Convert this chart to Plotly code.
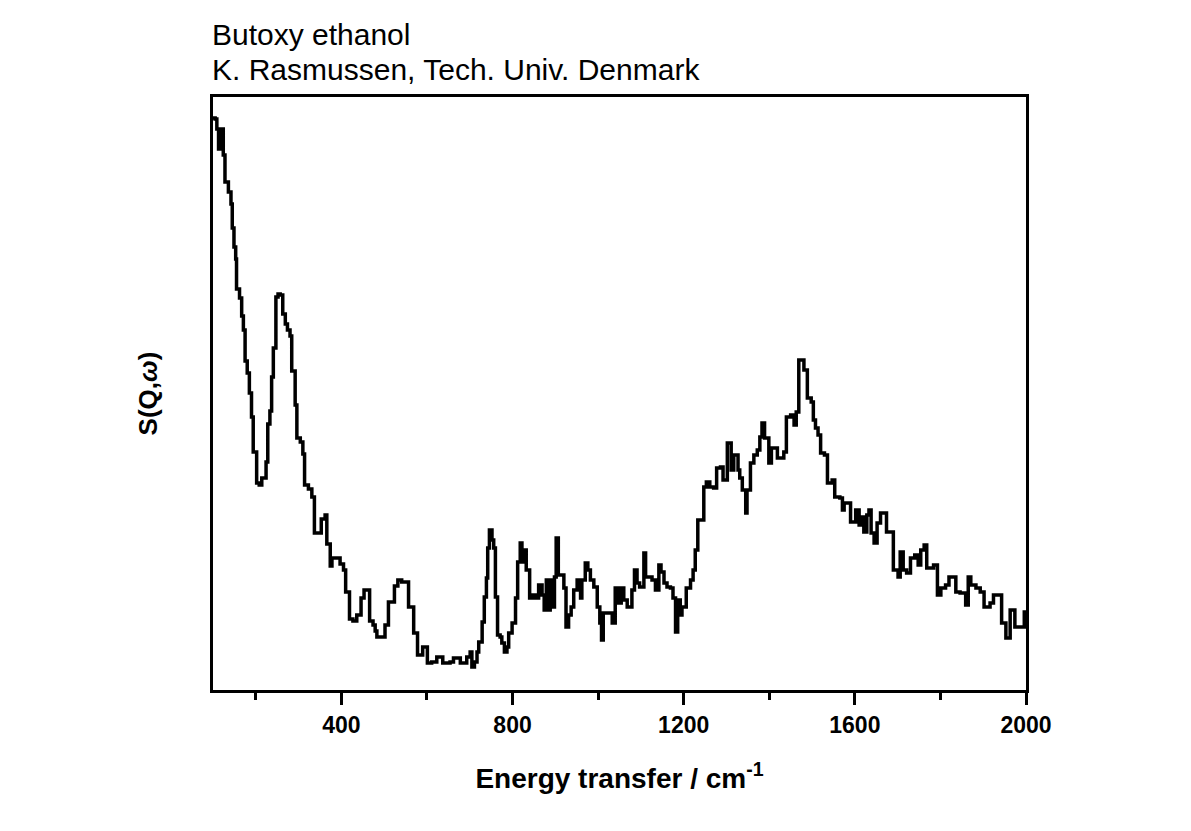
import plotly.graph_objects as go

# Energy transfer (cm^-1), step edges
energy = [100, 105, 109, 113, 117, 120, 124, 128, 136, 142, 145, 149, 153, 155, 162, 167, 171, 175, 180, 185,
          190, 194, 202, 208, 214, 224, 228, 233, 237, 241, 247, 252, 257, 263, 269, 274, 280, 284, 292, 296,
          304, 310, 314, 323, 331, 337, 349, 353, 362, 366, 374, 378, 389, 397, 405, 410, 419, 427, 436, 446,
          453, 462, 466, 474, 479, 483, 495, 502, 510, 520, 524, 532, 541, 552, 557, 569, 578, 590, 601, 611,
          623, 637, 654, 662, 678, 693, 701, 705, 711, 717, 721, 729, 734, 739, 742, 746, 752, 756, 760, 765,
          771, 775, 781, 787, 791, 799, 807, 812, 818, 822, 828, 832, 840, 846, 853, 861, 869, 874, 879, 885,
          888, 895, 898, 902, 907, 913, 920, 925, 931, 937, 943, 951, 959, 962, 970, 976, 982, 990, 998, 1004,
          1008, 1012, 1021, 1033, 1040, 1048, 1054, 1060, 1068, 1079, 1085, 1091, 1097, 1107, 1111, 1118, 1126, 1134, 1142, 1147,
          1154, 1161, 1169, 1175, 1181, 1186, 1192, 1196, 1206, 1216, 1222, 1227, 1233, 1243, 1247, 1253, 1261, 1270, 1277, 1286,
          1292, 1302, 1311, 1317, 1327, 1331, 1337, 1345, 1348, 1356, 1364, 1372, 1378, 1383, 1389, 1399, 1405, 1419, 1434, 1440,
          1450, 1458, 1463, 1469, 1481, 1489, 1498, 1503, 1508, 1514, 1520, 1529, 1536, 1547, 1553, 1565, 1571, 1575, 1582, 1590,
          1598, 1602, 1610, 1615, 1621, 1628, 1633, 1638, 1645, 1652, 1660, 1674, 1690, 1701, 1706, 1713, 1721, 1730, 1740, 1748,
          1754, 1762, 1768, 1784, 1793, 1801, 1812, 1820, 1836, 1846, 1859, 1865, 1871, 1883, 1893, 1902, 1916, 1924, 1943, 1953,
          1963, 1974, 1996, 2000]

# S(Q,w), arbitrary units
intensity = [572, 571, 561, 541, 556, 561, 535, 508, 498, 486, 462, 443, 431, 401, 392, 374, 360, 329, 317, 297,
             273, 238, 207, 205, 212, 228, 266, 279, 313, 342, 393, 396, 395, 376, 366, 360, 354, 319, 285, 252,
             248, 236, 205, 201, 193, 157, 157, 171, 175, 146, 124, 132, 132, 126, 120, 98, 71, 69, 75, 92,
             100, 100, 69, 65, 59, 53, 53, 65, 88, 88, 104, 110, 108, 108, 83, 57, 35, 43, 27, 28,
             33, 27, 28, 32, 27, 33, 38, 23, 28, 38, 48, 68, 93, 112, 142, 160, 150, 142, 93, 55,
             53, 47, 38, 43, 57, 67, 92, 128, 147, 128, 140, 120, 92, 95, 92, 105, 95, 80, 110, 80,
             110, 83, 113, 152, 115, 115, 102, 63, 75, 83, 100, 110, 92, 110, 127, 120, 110, 103, 83, 67,
             50, 77, 77, 67, 102, 87, 102, 90, 83, 100, 120, 107, 103, 137, 113, 113, 110, 100, 125, 118,
             107, 103, 102, 92, 58, 90, 75, 83, 102, 110, 120, 140, 170, 170, 203, 208, 203, 202, 222, 223,
             210, 247, 220, 235, 220, 212, 200, 177, 200, 227, 235, 240, 253, 267, 252, 227, 242, 232, 238, 273,
             275, 265, 278, 330, 320, 292, 288, 270, 262, 255, 237, 235, 207, 210, 193, 192, 180, 187, 187, 168,
             168, 180, 165, 173, 158, 175, 180, 157, 147, 167, 177, 158, 120, 113, 138, 120, 117, 132, 135, 125,
             140, 145, 122, 125, 95, 102, 105, 113, 98, 97, 85, 113, 105, 102, 98, 83, 87, 95, 67, 52,
             80, 63, 78, 78]

title_lines = ["Butoxy ethanol", "K. Rasmussen, Tech. Univ. Denmark"]
x_title = "Energy transfer / cm<sup>-1</sup>"
y_title = "<b>S(Q,<i>\u03c9</i>)</b>"

FONT = "Liberation Sans, Arial, sans-serif"

fig = go.Figure()
fig.add_trace(go.Scatter(
    x=energy, y=intensity, mode="lines", line_shape="hv",
    line=dict(color="black", width=3.5), showlegend=False, hoverinfo="skip"))

title_y = [1.1062, 1.0472]
fig.update_layout(
    width=1183, height=823,
    margin=dict(l=205, r=165, t=89, b=141),
    paper_bgcolor="white", plot_bgcolor="white",
    font=dict(family=FONT, color="black"),
    annotations=[dict(
        text=t, xref="paper", yref="paper",
        x=0, y=yy, xanchor="left", yanchor="middle", align="left",
        showarrow=False, xshift=-3,
        font=dict(family=FONT, size=30, color="black"))
        for t, yy in zip(title_lines, title_y)],
)

fig.update_xaxes(
    range=[100, 2000], showgrid=False, zeroline=False,
    showline=True, linecolor="black", linewidth=3, mirror=True,
    tickmode="linear", tick0=0, dtick=400,
    ticks="outside", ticklen=12, tickwidth=3, tickcolor="black",
    tickfont=dict(family=FONT, size=23, color="black", weight="bold"),
    minor=dict(dtick=200, tick0=0, ticks="outside", ticklen=7, tickwidth=3, tickcolor="black"),
    title=dict(text=x_title, standoff=32,
               font=dict(family=FONT, size=28, color="black", weight="bold")),
)
fig.update_yaxes(
    range=[0, 593], showgrid=False, zeroline=False,
    showline=True, linecolor="black", linewidth=3, mirror=True,
    ticks="", showticklabels=False,
    title=dict(text=y_title, standoff=45,
               font=dict(family=FONT, size=26, color="black")),
)

fig.write_html("out.html")
